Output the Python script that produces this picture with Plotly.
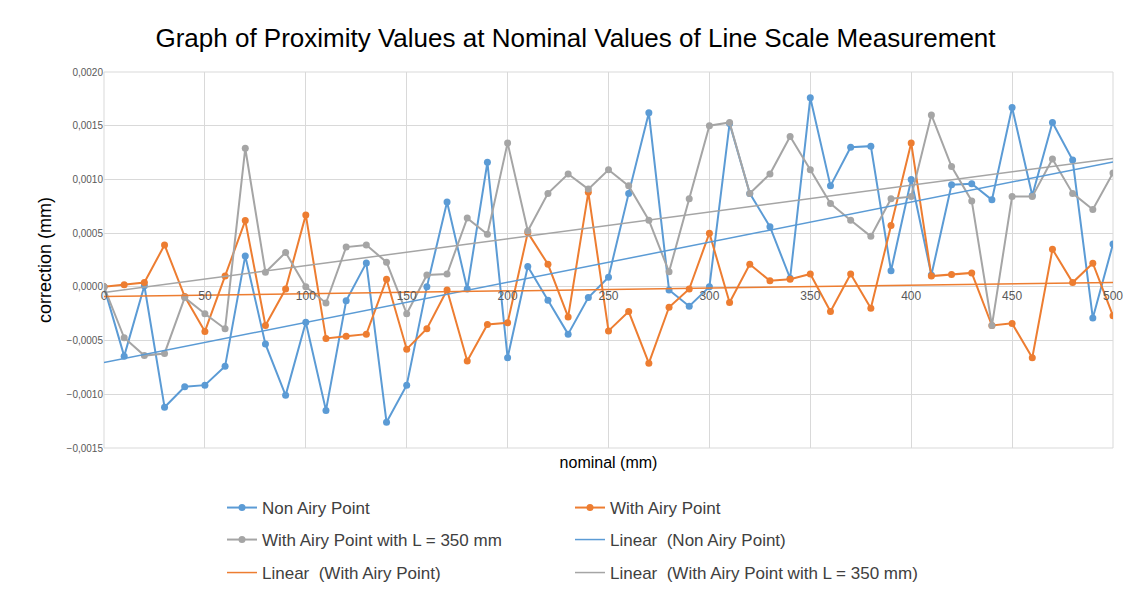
import numpy as np
import plotly.graph_objects as go

nominal = [0, 10, 20, 30, 40, 50, 60, 70, 80, 90, 100, 110, 120, 130, 140, 150, 160, 170, 180, 190,
           200, 210, 220, 230, 240, 250, 260, 270, 280, 290, 300, 310, 320, 330, 340, 350, 360, 370,
           380, 390, 400, 410, 420, 430, 440, 450, 460, 470, 480, 490, 500]

non_airy = [0.0, -0.000645, 0.00001, -0.00112, -0.00093, -0.000915, -0.00074, 0.000288, -0.000533,
            -0.00101, -0.00033, -0.00115, -0.00013, 0.000223, -0.00126, -0.000915, 0.0, 0.00079,
            -0.00002, 0.00116, -0.00066, 0.00019, -0.000124, -0.00044, -0.0001, 0.00009, 0.00087,
            0.00162, -0.00003, -0.00018, 0.0, 0.00152, 0.00087, 0.00056, 0.00008, 0.00176, 0.00094,
            0.0013, 0.00131, 0.00015, 0.001, 0.00011, 0.00095, 0.00096, 0.00081, 0.00167, 0.00085,
            0.00153, 0.00118, -0.00029, 0.0004]

with_airy = [0.0, 0.00002, 0.00004, 0.00039, -0.00009, -0.000415, 0.0001, 0.000617, -0.00036,
             -0.00002, 0.00067, -0.00048, -0.00046, -0.00044, 0.00007, -0.00058, -0.00039, -0.00003,
             -0.00069, -0.00035, -0.000335, 0.000505, 0.00021, -0.00028, 0.00088, -0.00041, -0.00023,
             -0.00071, -0.00019, -0.00002, 0.0005, -0.000146, 0.00021, 0.000056, 0.00007, 0.00012,
             -0.00023, 0.00012, -0.0002, 0.00057, 0.00134, 0.0001, 0.000115, 0.00013, -0.00036,
             -0.00034, -0.00066, 0.00035, 0.00004, 0.00022, -0.00027]

with_airy_l350 = [0.0, -0.000474, -0.00064, -0.00062, -0.0001, -0.00025, -0.00039, 0.00129, 0.000136,
                  0.00032, 0.0, -0.00015, 0.00037, 0.00039, 0.00023, -0.00025, 0.00011, 0.00012,
                  0.00064, 0.00049, 0.00134, 0.00052, 0.00087, 0.00105, 0.00091, 0.00109, 0.00094,
                  0.00062, 0.00014, 0.00082, 0.0015, 0.00153, 0.00087, 0.00105, 0.0014, 0.00109,
                  0.000775, 0.00062, 0.00047, 0.00082, 0.00084, 0.0016, 0.00112, 0.0008, -0.00036,
                  0.00084, 0.00084, 0.00119, 0.00087, 0.00072, 0.00106]

names = ["Non Airy Point", "With Airy Point", "With Airy Point with L = 350 mm"]
colors = ["#5B9BD5", "#ED7D31", "#A5A5A5"]
series = [non_airy, with_airy, with_airy_l350]

FONT = "Liberation Sans, Arial, sans-serif"
W, H = 1127, 583  # page body has an 8px margin

# one legend per entry, laid out as 2 columns x 3 rows like the reference
col_x = [214, 562]
row_y = [500, 532, 565]
slots = [(0, 0), (0, 1), (1, 0), (1, 1), (2, 0), (2, 1)]
legend_ids = ["legend"] + ["legend%d" % i for i in range(2, 7)]

fig = go.Figure()
x = np.array(nominal, dtype=float)
for i, (name, col, ys) in enumerate(zip(names, colors, series)):
    fig.add_trace(go.Scatter(x=nominal, y=ys, name=name, mode="lines+markers",
                             line=dict(color=col, width=2), marker=dict(color=col, size=7),
                             legend=legend_ids[i]))
for i, (name, col, ys) in enumerate(zip(names, colors, series)):
    k, b = np.polyfit(x, np.array(ys), 1)
    fig.add_trace(go.Scatter(x=nominal, y=k * x + b, name="Linear  (" + name + ")", mode="lines",
                             line=dict(color=col, width=1.5), legend=legend_ids[3 + i]))

zero_pos = (0 - (-0.0015)) / (0.0020 - (-0.0015))

legends = {}
for lid, (r, c) in zip(legend_ids, slots):
    legends[lid] = dict(orientation="h", xref="container", yref="container",
                        x=col_x[c] / W, y=1 - row_y[r] / H,
                        xanchor="left", yanchor="middle",
                        font=dict(family=FONT, size=17, color="#404040"),
                        bgcolor="rgba(0,0,0,0)", itemwidth=30)

fig.update_layout(
    width=W, height=H,
    paper_bgcolor="white", plot_bgcolor="white",
    separators=",.",
    margin=dict(l=96, r=18, t=64, b=143),
    title=dict(text="Graph of Proximity Values at Nominal Values of Line Scale Measurement",
               x=567.5 / W, xanchor="center", y=1 - 30 / H, yanchor="middle",
               font=dict(family=FONT, size=26, color="#000000")),
    xaxis=dict(range=[0, 500], dtick=50, showgrid=True, gridcolor="#D9D9D9", gridwidth=1,
               showticklabels=False, zeroline=False, showline=False,
               title=dict(text="nominal (mm)", font=dict(family=FONT, size=16, color="#000000"),
                          standoff=8)),
    xaxis2=dict(range=[0, 500], dtick=50, overlaying="x", anchor="free", position=zero_pos,
                showgrid=False, zeroline=False, showline=False, ticks="",
                tickfont=dict(family=FONT, size=12, color="#595959"), side="bottom"),
    yaxis=dict(range=[-0.0015, 0.0020], dtick=0.0005, tickformat=".4f", showgrid=True,
               gridcolor="#D9D9D9", gridwidth=1, zeroline=False, showline=False,
               tickfont=dict(family=FONT, size=10, color="#595959"), ticks="", ticklen=0,
               title=dict(text="correction (mm)", font=dict(family=FONT, size=18, color="#000000"),
                          standoff=10)),
    showlegend=True,
    **legends,
)
# invisible helper trace so the free x axis is drawn
fig.add_trace(go.Scatter(x=[0, 500], y=[0, 0], xaxis="x2", mode="lines",
                         line=dict(width=0, color="rgba(0,0,0,0)"), showlegend=False,
                         hoverinfo="skip"))
# light outline of the plot area
fig.add_shape(type="rect", xref="paper", yref="paper", x0=0, x1=1, y0=0, y1=1,
              line=dict(color="#D9D9D9", width=1), layer="below")

fig.write_html("out.html")
